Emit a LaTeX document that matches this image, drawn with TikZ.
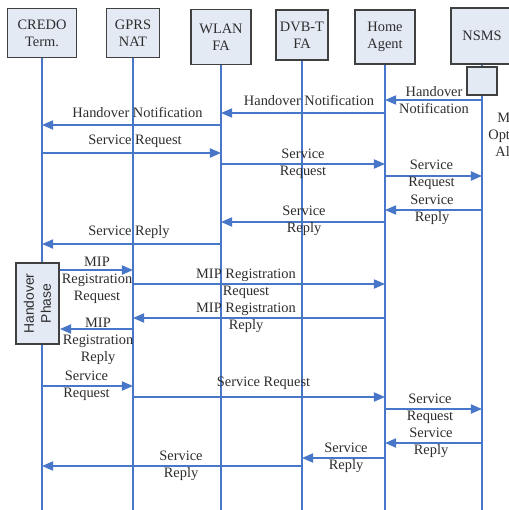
\documentclass[tikz,border=0pt]{standalone}
\usepackage{fontspec}
\setmainfont{Liberation Serif}
\setsansfont{Liberation Sans}
\usetikzlibrary{arrows.meta}

\definecolor{lifeblue}{RGB}{72,118,200}
\definecolor{boxfill}{RGB}{228,234,244}
\definecolor{boxline}{RGB}{64,64,64}
\definecolor{txtgray}{RGB}{45,45,45}

\tikzset{
  station/.style={draw=boxline, line width=1.1pt, fill=boxfill, align=center,
    inner sep=0pt, text=txtgray, font=\fontsize{8.2}{9.7}\selectfont},
  life/.style={draw=lifeblue, line width=0.85pt},
  msg/.style={draw=lifeblue, line width=0.85pt,
    -{Triangle[length=6.3pt,width=5.2pt]}},
  lbl/.style={align=center, inner sep=0pt, text=txtgray,
    font=\fontsize{8.2}{9.7}\selectfont}
}

\begin{document}
\begin{tikzpicture}[x=0.02cm, y=-0.02cm]
  \useasboundingbox (0,0) rectangle (508,510);

  \node[station, minimum width=13.8mm, minimum height=9.8mm] (credo) at (42,33) {CREDO\\Term.};
  \node[station, minimum width=10.6mm, minimum height=9.8mm] (gprs) at (133,33) {GPRS\\NAT};
  \node[station, minimum width=12mm, minimum height=11mm] (wlan) at (221,37) {WLAN\\FA};
  \node[station, minimum width=10.4mm, minimum height=10mm] (dvbt) at (302,35) {DVB-T\\FA};
  \node[station, minimum width=12mm, minimum height=10.8mm] (ha) at (385,37) {Home\\Agent};
  \node[station, minimum width=12.4mm, minimum height=11.2mm] (nsms) at (482,36) {NSMS};

  \draw[life] (credo) -- (credo |- 0,510);
  \draw[life] (gprs) -- (gprs |- 0,510);
  \draw[life] (wlan) -- (wlan |- 0,510);
  \draw[life] (dvbt) -- (dvbt |- 0,510);
  \draw[life] (ha) -- (ha |- 0,510);
  \draw[life] (nsms) -- (nsms |- 0,510);

  \node[station, minimum width=6mm, minimum height=5.6mm] (act) at (482,81) {};
  \node[station, rotate=90, font=\sffamily\fontsize{7.9}{9.7}\selectfont,
        minimum width=16.2mm, minimum height=8.6mm] (phase) at (37.5,303.5) {Handover\\Phase};

  \draw[msg] (nsms |- 0,100) -- (ha |- 0,100);
  \node[lbl] (hn1) at (434,100.5) {Handover\\Notification};
  \draw[msg] (ha |- 0,113) -- (wlan |- 0,113);
  \node[lbl] (hn2) at (309,100) {Handover Notification};
  \draw[msg] (wlan |- 0,125) -- (credo |- 0,125);
  \node[lbl] (hn3) at (137.5,112) {Handover Notification};

  \draw[msg] (credo |- 0,153) -- (wlan |- 0,153);
  \node[lbl] (sq1) at (135,141) {Service Request};
  \draw[msg] (wlan |- 0,164) -- (ha |- 0,164);
  \node[lbl] (sq2) at (303,163.5) {Service\\Request};
  \draw[msg] (ha |- 0,176) -- (nsms |- 0,176);
  \node[lbl] (sq3) at (431.5,174.5) {Service\\Request};
  \draw[msg] (nsms |- 0,210) -- (ha |- 0,210);
  \node[lbl] (sr1) at (432,209.5) {Service\\Reply};
  \draw[msg] (ha |- 0,222) -- (wlan |- 0,222);
  \node[lbl] (sr2) at (304,220.5) {Service\\Reply};
  \draw[msg] (wlan |- 0,244) -- (credo |- 0,244);
  \node[lbl] (sr3) at (129,232) {Service Reply};

  \draw[msg] (phase.south |- 0,270) -- (gprs |- 0,270);
  \node[lbl] (mq1) at (97,280) {MIP\\Registration\\Request};
  \draw[msg] (gprs |- 0,284) -- (ha |- 0,284);
  \node[lbl] (mq2) at (246,283.5) {MIP Registration\\Request};
  \draw[msg] (ha |- 0,318) -- (gprs |- 0,318);
  \node[lbl] (mr1) at (246,317.5) {MIP Registration\\Reply};
  \draw[msg] (gprs |- 0,329) -- (phase.south |- 0,329);
  \node[lbl] (mr2) at (98,341) {MIP\\Registration\\Reply};

  \draw[msg] (credo |- 0,386) -- (gprs |- 0,386);
  \node[lbl] (sq4) at (86.5,385.5) {Service\\Request};
  \draw[msg] (gprs |- 0,397) -- (ha |- 0,397);
  \node[lbl] (sq5) at (263.5,383) {Service Request};
  \draw[msg] (ha |- 0,409) -- (nsms |- 0,409);
  \node[lbl] (sq6) at (430,408.5) {Service\\Request};
  \draw[msg] (nsms |- 0,443) -- (ha |- 0,443);
  \node[lbl] (sr4) at (431,442.5) {Service\\Reply};
  \draw[msg] (ha |- 0,458) -- (dvbt |- 0,458);
  \node[lbl] (sr5) at (346,457.5) {Service\\Reply};
  \draw[msg] (dvbt |- 0,466) -- (credo |- 0,466);
  \node[lbl] (sr6) at (181,465.5) {Service\\Reply};

  \node[lbl, align=left, anchor=north west] (moa) at (488,113)
       {\hspace*{1.8mm}M\\Opt\\\hspace*{1.4mm}Al};
\end{tikzpicture}
\end{document}
